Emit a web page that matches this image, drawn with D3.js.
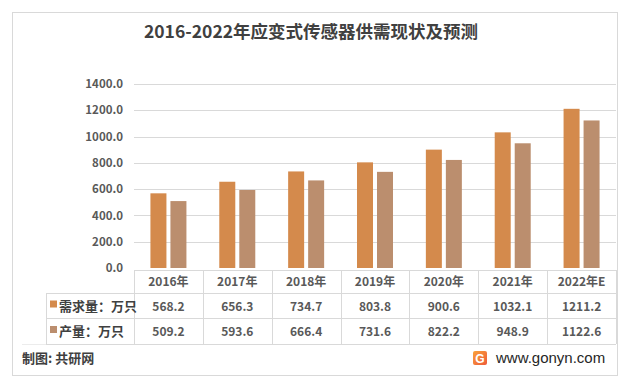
<!DOCTYPE html>
<html><head><meta charset="utf-8">
<script src="https://cdn.jsdelivr.net/npm/d3@7"></script>
<style>body{margin:0;background:#fff;}svg{display:block;font-family:"Microsoft YaHei","Noto Sans CJK SC",sans-serif;}</style>
</head><body>
<script>
const categories = ["2016年","2017年","2018年","2019年","2020年","2021年","2022年E"];
const demand = [568.2,656.3,734.7,803.8,900.6,1032.1,1211.2];
const production = [509.2,593.6,666.4,731.6,822.2,948.9,1122.6];
const seriesNames = ["需求量：万只","产量：万只"];
const yTicks = [0,200,400,600,800,1000,1200,1400];
const colors = ["#D48A4C","#BB8E6E"];
const W=625,H=382;
const svg=d3.select("body").append("svg").attr("width",W).attr("height",H);
svg.append("rect").attr("x",12.5).attr("y",12.5).attr("width",605).attr("height",363).attr("fill","#fff").attr("stroke","#d9d9d9");
svg.append("text").attr("x",311).attr("y",38).attr("text-anchor","middle").attr("font-size",17.5).attr("font-weight","bold").attr("fill","#404040").text("2016-2022年应变式传感器供需现状及预测");
const x=d3.scaleBand().domain(categories).range([134,616]);
const y=d3.scaleLinear().domain([0,1400]).range([268,84]);
const g=svg.append("g");
g.selectAll("line.grid").data(yTicks.filter(d=>d>0)).join("line").attr("x1",134).attr("x2",616).attr("y1",d=>Math.round(y(d))+0.5).attr("y2",d=>Math.round(y(d))+0.5).attr("stroke","#d9d9d9");
const yAxis=d3.axisLeft(y).tickValues(yTicks).tickFormat(d3.format(".1f")).tickSize(0).tickPadding(0);
const ya=svg.append("g").attr("transform","translate(123,0)").call(yAxis);
ya.select(".domain").remove();
ya.selectAll("text").attr("font-size",11.5).attr("font-weight","bold").attr("fill","#595959").attr("font-family","'Microsoft YaHei','Noto Sans CJK SC',sans-serif");
const bw=16,gap=4;
const series=[demand,production];
series.forEach((vals,si)=>{
  g.selectAll("rect.s"+si).data(categories).join("rect")
   .attr("x",(c)=>x(c)+x.bandwidth()/2-(bw*2+gap)/2+si*(bw+gap))
   .attr("width",bw)
   .attr("y",(c,i)=>y(vals[i]))
   .attr("height",(c,i)=>y(0)-y(vals[i]))
   .attr("fill",colors[si]);
});
const tc="#d9d9d9";
const t=svg.append("g");
t.append("line").attr("x1",134).attr("x2",616).attr("y1",270.5).attr("y2",270.5).attr("stroke",tc);
t.append("line").attr("x1",46).attr("x2",616).attr("y1",293.5).attr("y2",293.5).attr("stroke",tc);
t.append("line").attr("x1",46).attr("x2",616).attr("y1",318.5).attr("y2",318.5).attr("stroke",tc);
t.append("line").attr("x1",46).attr("x2",616).attr("y1",344.5).attr("y2",344.5).attr("stroke",tc);
t.append("line").attr("x1",22).attr("x2",46).attr("y1",344.5).attr("y2",344.5).attr("stroke","#ececec");
t.append("line").attr("x1",46.5).attr("x2",46.5).attr("y1",293).attr("y2",344).attr("stroke",tc);
const vx=categories.map(c=>x(c)).concat([616]);
t.selectAll("line.v").data(vx).join("line").attr("x1",d=>Math.round(d)+0.5).attr("x2",d=>Math.round(d)+0.5).attr("y1",270).attr("y2",344).attr("stroke",tc);
t.selectAll("text.cat").data(categories).join("text").attr("x",c=>x(c)+x.bandwidth()/2).attr("y",286).attr("text-anchor","middle").attr("font-size",12).attr("font-weight","bold").attr("fill","#595959").text(d=>d);
series.forEach((vals,si)=>{
  const yy=si===0?310.5:336;
  t.selectAll("text.v"+si).data(categories).join("text").attr("x",c=>x(c)+x.bandwidth()/2).attr("y",yy).attr("text-anchor","middle").attr("font-size",12).attr("font-weight","bold").attr("fill","#595959").text((c,i)=>vals[i].toFixed(1));
  t.append("rect").attr("x",50).attr("y",yy-10).attr("width",7).attr("height",7).attr("fill",colors[si]);
  t.append("text").attr("x",59).attr("y",yy).attr("font-size",13).attr("font-weight","bold").attr("fill","#404040").text(seriesNames[si]);
});
svg.append("text").attr("x",22).attr("y",363).attr("font-size",13).attr("font-weight","bold").attr("fill","#404040").text("制图: 共研网");
const defs=svg.append("defs");
const lg=defs.append("linearGradient").attr("id","lg").attr("x1",0).attr("y1",0).attr("x2",1).attr("y2",1);
lg.append("stop").attr("offset",0).attr("stop-color","#F9A23A");
lg.append("stop").attr("offset",1).attr("stop-color","#EE5A3A");
svg.append("rect").attr("x",473).attr("y",351).attr("width",14).attr("height",14).attr("rx",2).attr("fill","url(#lg)");
svg.append("text").attr("x",480).attr("y",363).attr("text-anchor","middle").attr("font-size",12).attr("font-weight","bold").attr("fill","#fff").attr("font-family","Arial,sans-serif").text("G");
svg.append("text").attr("x",496).attr("y",363).attr("font-size",15).attr("fill","#262626").attr("font-family","Arial,'Liberation Sans',sans-serif").text("www.gonyn.com");
</script>
</body></html>
